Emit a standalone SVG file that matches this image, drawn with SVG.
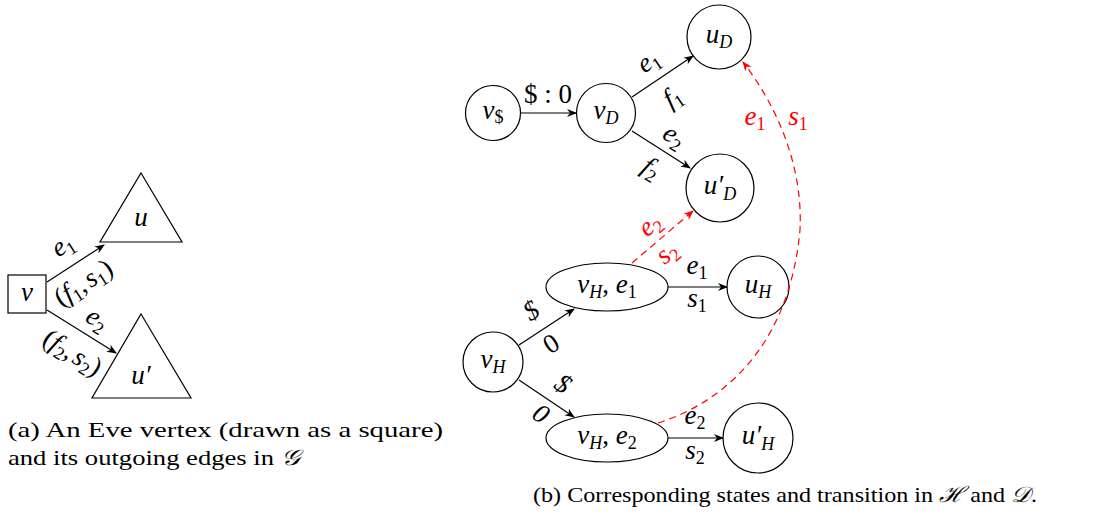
<svg xmlns="http://www.w3.org/2000/svg" width="1108" height="521" viewBox="0 0 1108 521">
<style>
.n{fill:none;stroke:#000;stroke-width:1.2}
.e{fill:none;stroke:#000;stroke-width:1.2}
.r{fill:none;stroke:#f00;stroke-width:1.2;stroke-dasharray:7,5}
.m{font-family:"Liberation Serif",serif;font-style:italic;font-size:27px;fill:#000;text-anchor:middle}
.up{font-style:normal}
.red{fill:#f00}
.cap{font-family:"Liberation Serif",serif;font-size:22px;fill:#000}
.s{font-size:18px}
</style>
<defs>
<marker id="a" markerWidth="12" markerHeight="10" refX="9" refY="5" orient="auto" markerUnits="userSpaceOnUse"><path d="M0,1 L10,5 L0,9 L3,5 Z" fill="#000"/></marker>
<marker id="ar" markerWidth="12" markerHeight="10" refX="9" refY="5" orient="auto" markerUnits="userSpaceOnUse"><path d="M0,1 L10,5 L0,9 L3,5 Z" fill="#f00"/></marker>
</defs>

<g id="left-v"><rect class="n" x="8" y="275" width="38" height="38"/><text class="m" x="27" y="301">v</text></g>
<g id="left-u"><polygon class="n" points="141,173 182,242 100,242"/><text class="m" x="141" y="226">u</text></g>
<g id="left-u2"><polygon class="n" points="141,314 191,398 92,398"/><text class="m" x="141" y="384">u′</text></g>

<g id="n-vdollar"><circle class="n" cx="493" cy="113" r="27.5"/><text class="m" x="493" y="119">v<tspan class="up s" dy="4">$</tspan></text></g>
<g id="n-vD"><circle class="n" cx="606" cy="113" r="29.5"/><text class="m" x="606" y="119">v<tspan class="s" dy="5">D</tspan></text></g>
<g id="n-uD"><circle class="n" cx="719" cy="37" r="32"/><text class="m" x="719" y="43">u<tspan class="s" dy="5">D</tspan></text></g>
<g id="n-uD2"><circle class="n" cx="720" cy="188" r="34"/><text class="m" x="720" y="194">u′<tspan class="s" dy="6">D</tspan></text></g>
<g id="n-vH"><circle class="n" cx="493" cy="362" r="30"/><text class="m" x="493" y="368">v<tspan class="s" dy="5">H</tspan></text></g>
<g id="n-vHe1"><ellipse class="n" cx="607" cy="287" rx="61" ry="24"/><text class="m" x="607" y="293">v<tspan class="s" dy="5">H</tspan><tspan dy="-5" class="up">, </tspan>e<tspan class="s up" dy="5">1</tspan></text></g>
<g id="n-uH"><circle class="n" cx="758" cy="287" r="31"/><text class="m" x="758" y="293">u<tspan class="s" dy="5">H</tspan></text></g>
<g id="n-vHe2"><ellipse class="n" cx="607" cy="438" rx="61" ry="24"/><text class="m" x="607" y="444">v<tspan class="s" dy="5">H</tspan><tspan dy="-5" class="up">, </tspan>e<tspan class="s up" dy="5">2</tspan></text></g>
<g id="n-uH2"><circle class="n" cx="758" cy="438" r="35"/><text class="m" x="758" y="444">u′<tspan class="s" dy="6">H</tspan></text></g>

<g id="connectors">
<line class="e" x1="47" y1="282" x2="104" y2="245" marker-end="url(#a)"/>
<line class="e" x1="47" y1="310" x2="116" y2="353" marker-end="url(#a)"/>
<line class="e" x1="521" y1="113" x2="576" y2="113" marker-end="url(#a)"/>
<line class="e" x1="632" y1="97" x2="693" y2="56" marker-end="url(#a)"/>
<line class="e" x1="632" y1="131" x2="690" y2="168" marker-end="url(#a)"/>
<line class="e" x1="519" y1="345" x2="574" y2="309" marker-end="url(#a)"/>
<line class="e" x1="519" y1="380" x2="574" y2="417" marker-end="url(#a)"/>
<line class="e" x1="668" y1="287" x2="727" y2="287" marker-end="url(#a)"/>
<line class="e" x1="668" y1="438" x2="723" y2="438" marker-end="url(#a)"/>
<line class="r" x1="632" y1="263" x2="693" y2="211" marker-end="url(#ar)"/>
<path class="r" d="M658,423 C730,400 790,340 800,230 C803,170 780,110 743,62" marker-end="url(#ar)"/>
</g>

<g id="labels">
<text class="m" transform="translate(67,252) rotate(-33)">e<tspan class="s up" dy="5">1</tspan></text>
<text class="m" transform="translate(88,290) rotate(-33)"><tspan class="up">(</tspan>f<tspan class="s up" dy="5">1</tspan><tspan class="up" dy="-5">,</tspan><tspan dx="3">s</tspan><tspan class="s up" dy="5">1</tspan><tspan class="up" dy="-5">)</tspan></text>
<text class="m" transform="translate(93,326) rotate(32)">e<tspan class="s up" dy="5">2</tspan></text>
<text class="m" transform="translate(68,360) rotate(32)"><tspan class="up">(</tspan>f<tspan class="s up" dy="5">2</tspan><tspan class="up" dy="-5">,</tspan><tspan dx="3">s</tspan><tspan class="s up" dy="5">2</tspan><tspan class="up" dy="-5">)</tspan></text>

<text class="m up" x="548" y="103">$ : 0</text>
<text class="m" transform="translate(653,68) rotate(-34)">e<tspan class="s up" dy="5">1</tspan></text>
<text class="m" transform="translate(677,104) rotate(-34)">f<tspan class="s up" dy="5">1</tspan></text>
<text class="m" transform="translate(670,143) rotate(32)">e<tspan class="s up" dy="5">2</tspan></text>
<text class="m" transform="translate(647,175) rotate(32)">f<tspan class="s up" dy="5">2</tspan></text>

<text class="m red" transform="translate(655,231) rotate(-40)">e<tspan class="s up" dy="5">2</tspan></text>
<text class="m red" transform="translate(672,259) rotate(-40)">s<tspan class="s up" dy="5">2</tspan></text>
<text class="m red" x="755" y="125">e<tspan class="s up" dy="5">1</tspan></text>
<text class="m red" x="798" y="125">s<tspan class="s up" dy="5">1</tspan></text>

<text class="m" transform="translate(536,318) rotate(-33)">$</text>
<text class="m up" transform="translate(556,351) rotate(-33)">0</text>
<text class="m" transform="translate(558,391) rotate(34)">$</text>
<text class="m" transform="translate(536,421) rotate(34)">0</text>

<text class="m" x="697" y="274">e<tspan class="s up" dy="5">1</tspan></text>
<text class="m" x="697" y="307">s<tspan class="s up" dy="5">1</tspan></text>
<text class="m" x="695" y="424">e<tspan class="s up" dy="5">2</tspan></text>
<text class="m" x="695" y="459">s<tspan class="s up" dy="5">2</tspan></text>
</g>

<g id="captions">
<text class="cap" x="8" y="437" textLength="435" lengthAdjust="spacingAndGlyphs">(a) An Eve vertex (drawn as a square)</text>
<text class="cap" x="8" y="465" textLength="292" lengthAdjust="spacingAndGlyphs">and its outgoing edges in <tspan font-style="italic">𝒢</tspan></text>
<text class="cap" x="533" y="502" textLength="504" lengthAdjust="spacingAndGlyphs">(b) Corresponding states and transition in <tspan font-style="italic">ℋ</tspan> and <tspan font-style="italic">𝒟</tspan>.</text>
</g>
</svg>
